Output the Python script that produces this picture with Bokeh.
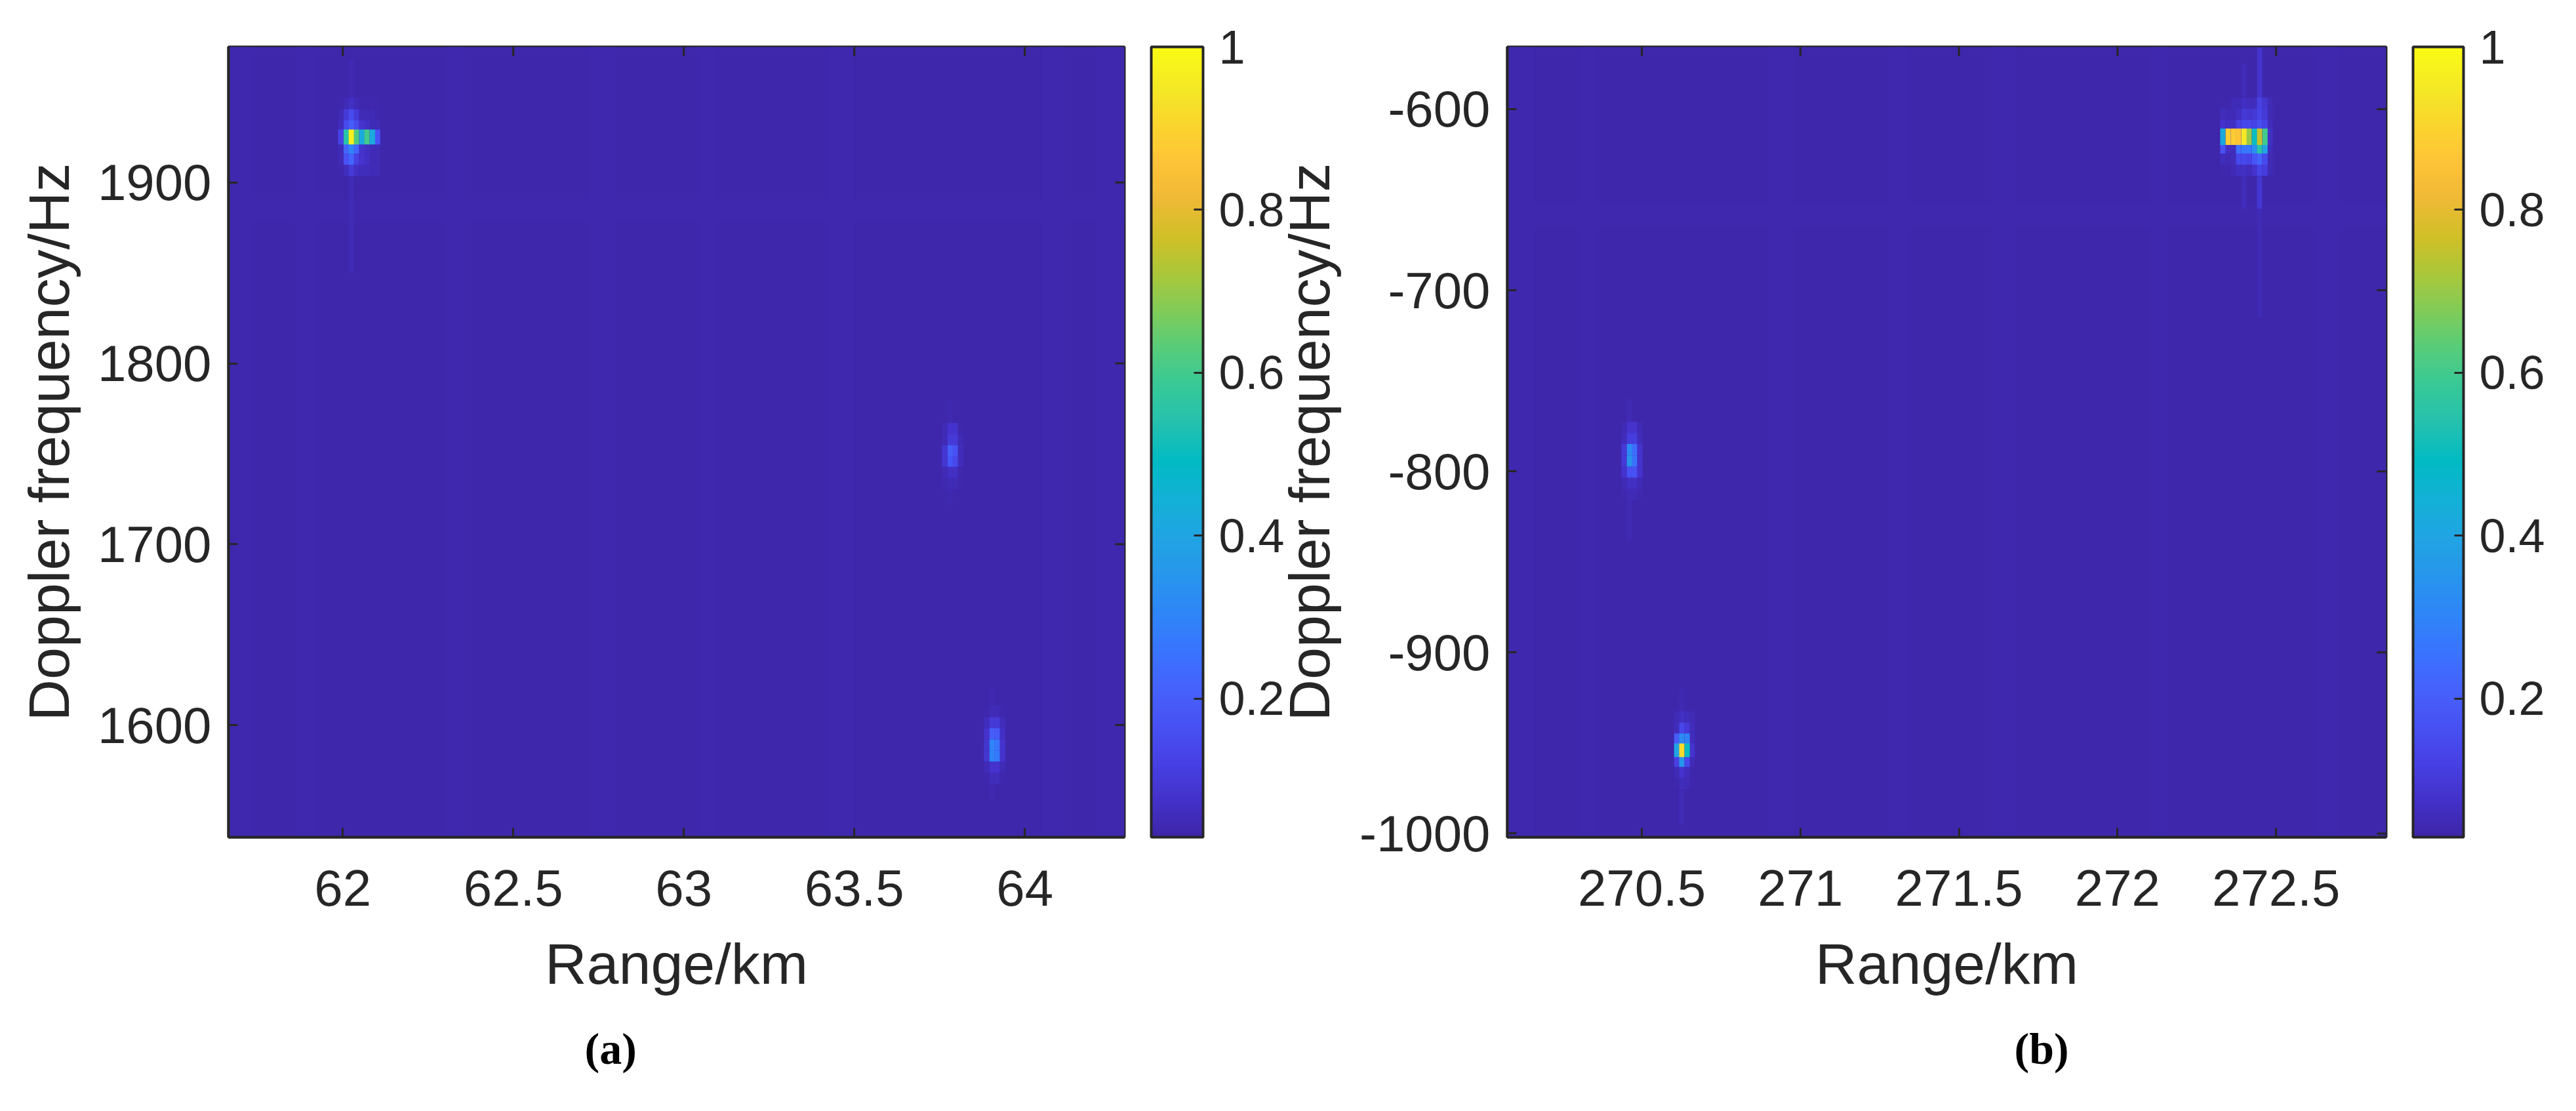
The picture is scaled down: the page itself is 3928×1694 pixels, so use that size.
from bokeh.embed import file_html
from bokeh.layouts import row
from bokeh.models import ColorBar, ColumnDataSource, FixedTicker, LinearColorMapper, Range1d, Title
from bokeh.plotting import figure
from bokeh.resources import INLINE
from bokeh.transform import transform
import numpy as np

# parula, every 3rd entry of the 64 level table
parula_stops = [
    (0.2422, 0.1504, 0.6603), (0.2647, 0.1978, 0.7952), (0.2783, 0.2559, 0.8991), (0.2810, 0.3228, 0.9579),
    (0.2699, 0.3892, 0.9906), (0.2206, 0.4603, 0.9973), (0.1786, 0.5289, 0.9682), (0.1540, 0.5902, 0.9218),
    (0.1248, 0.6459, 0.8883), (0.0689, 0.6948, 0.8394), (0.0067, 0.7312, 0.7660), (0.1408, 0.7584, 0.6842),
    (0.2161, 0.7843, 0.5923), (0.3406, 0.8008, 0.4789), (0.5044, 0.7993, 0.3480), (0.6720, 0.7793, 0.2227),
    (0.8203, 0.7498, 0.1535), (0.9393, 0.7288, 0.2100), (0.9970, 0.7659, 0.2199), (0.9786, 0.8386, 0.1766),
    (0.9597, 0.9135, 0.1423), (0.9769, 0.9839, 0.0805),
]

bar_ticks = [0.2, 0.4, 0.6, 0.8, 1]
bar_labels = ['0.2', '0.4', '0.6', '0.8', '1']
value_low = 0.03
value_high = 1.0

# panel (a)
a_xticks = [62, 62.5, 63, 63.5, 64]
a_xlabels = ['62', '62.5', '63', '63.5', '64']
a_yticks = [1600, 1700, 1800, 1900]
a_ylabels = ['1600', '1700', '1800', '1900']
a_xrange = (61.665, 64.292)
a_yrange = (1538, 1975)
a_dx = 0.0155
a_background = 0.036

# faint vertical and horizontal bands of the background
a_band_x0 = [61.665, 61.86, 62.30, 62.72, 63.04, 63.42, 64.05, 64.21]
a_band_x1 = [61.74, 61.93, 62.36, 62.80, 63.10, 63.50, 64.12, 64.292]
a_band_v = [0.040, 0.038, 0.040, 0.038, 0.039, 0.038, 0.040, 0.041]
a_hband_y0 = [1878]
a_hband_y1 = [1891]
a_hband_v = [0.040]

a1_x = [61.994, 62.010, 62.025, 62.040, 62.056, 62.071, 62.087, 62.102]
a1_y = [1943.7, 1937.5, 1931.4, 1925.2, 1919.1, 1912.9, 1906.7]
a1_h = [6.16, 6.16, 6.16, 8.3, 6.16, 6.16, 6.16]
a1_v = [
    [.040, .050, .070, .050, .040, .040, .040, .040],
    [.050, .100, .150, .100, .050, .050, .050, .040],
    [.060, .150, .200, .150, .080, .070, .050, .050],
    [.130, .550, .970, .620, .420, .600, .420, .170],
    [.050, .220, .300, .220, .080, .070, .050, .050],
    [.050, .170, .220, .120, .080, .070, .050, .050],
    [.040, .060, .100, .070, .060, .060, .050, .050],
]
a2_x = [63.765, 63.781, 63.796, 63.812]
a2_y = [1764.0, 1757.8, 1751.7, 1745.9, 1739.7, 1733.5]
a2_h = [6.16, 6.16, 6.16, 6.16, 6.16, 6.16]
a2_v = [
    [.050, .080, .080, .040],
    [.050, .100, .100, .050],
    [.090, .200, .170, .060],
    [.090, .180, .140, .060],
    [.050, .070, .070, .040],
    [.045, .050, .050, .040],
]
a3_x = [63.888, 63.904, 63.919, 63.935]
a3_y = [1607.5, 1601.3, 1595.2, 1589.0, 1582.9, 1576.7, 1570.5]
a3_h = [6.16, 6.16, 6.16, 6.16, 6.16, 6.16, 6.16]
a3_v = [
    [.040, .050, .050, .040],
    [.060, .100, .100, .060],
    [.080, .200, .190, .070],
    [.090, .300, .260, .080],
    [.090, .300, .270, .080],
    [.050, .080, .080, .050],
    [.040, .060, .060, .040],
]
# thin vertical tails
a_streak_x = [62.025, 62.025, 63.781, 63.904]
a_streak_y0 = [1947, 1850, 1722, 1560]
a_streak_y1 = [1968, 1904, 1780, 1620]
a_streak_v = [0.047, 0.050, 0.042, 0.042]

# panel (b)
b_xticks = [270.5, 271, 271.5, 272, 272.5]
b_xlabels = ['270.5', '271', '271.5', '272', '272.5']
b_yticks = [-1000, -900, -800, -700, -600]
b_ylabels = ['-1000', '-900', '-800', '-700', '-600']
b_xrange = (270.076, 272.847)
b_yrange = (-1002, -565.6)
b_dx = 0.0165
b_background = 0.036

b_band_x0 = [270.076, 270.30, 270.90, 271.28, 271.60, 272.10, 272.62]
b_band_x1 = [270.16, 270.36, 270.98, 271.34, 271.68, 272.16, 272.70]
b_band_v = [0.040, 0.038, 0.040, 0.038, 0.039, 0.040, 0.039]
b_hband_y0 = [-665]
b_hband_y1 = [-652]
b_hband_v = [0.040]

b1_x = [272.332, 272.349, 272.366, 272.382, 272.399, 272.415, 272.432, 272.448, 272.465, 272.481]
b1_y = [-596.7, -602.9, -609.1, -615.2, -621.4, -627.5, -633.7]
b1_h = [6.16, 6.16, 6.16, 9.0, 6.16, 6.16, 6.16]
b1_v = [
    [.040, .040, .050, .050, .070, .060, .060, .120, .090, .050],
    [.060, .050, .050, .070, .100, .090, .100, .130, .100, .050],
    [.080, .070, .070, .120, .140, .140, .130, .160, .130, .060],
    [.420, .880, .880, .860, .950, .700, .500, .750, .600, .070],
    [.170, .070, .060, .250, .270, .270, .330, .550, .400, .060],
    [.060, .050, .060, .140, .140, .130, .180, .220, .150, .050],
    [.040, .040, .050, .070, .070, .060, .080, .130, .110, .050],
]
b2_x = [270.444, 270.461, 270.477, 270.494]
b2_y = [-775.7, -781.9, -788.0, -794.2, -800.4, -806.5, -812.7]
b2_h = [6.16, 6.16, 6.16, 6.16, 6.16, 6.16, 6.16]
b2_v = [
    [.050, .080, .080, .050],
    [.060, .110, .110, .060],
    [.100, .320, .240, .080],
    [.100, .350, .260, .080],
    [.080, .170, .170, .080],
    [.050, .070, .070, .050],
    [.040, .050, .050, .040],
]
b3_x = [270.610, 270.626, 270.643, 270.659]
b3_y = [-935.5, -941.7, -947.8, -954.0, -960.1, -966.3, -972.5]
b3_h = [6.16, 6.16, 6.16, 7.5, 6.16, 6.16, 6.16]
b3_v = [
    [.050, .070, .060, .050],
    [.060, .140, .100, .060],
    [.200, .320, .300, .060],
    [.400, .920, .500, .080],
    [.120, .350, .140, .050],
    [.050, .080, .060, .040],
    [.040, .060, .050, .040],
]
b_streak_x = [272.448, 272.448, 272.448, 272.399, 272.399, 270.461, 270.461, 270.626, 270.626]
b_streak_y0 = [-594, -655, -715, -593, -655, -776, -838, -935, -995]
b_streak_y1 = [-566, -637, -655, -575, -637, -760, -815, -920, -976]
b_streak_v = [0.080, 0.090, 0.050, 0.055, 0.060, 0.046, 0.048, 0.048, 0.050]


def make_palette(stops, n=256):
    stops = np.array(stops)
    pos = np.linspace(0, 1, len(stops))
    t = np.linspace(0, 1, n)
    rgb = np.column_stack([np.interp(t, pos, stops[:, i]) for i in range(3)])
    return ['#%02x%02x%02x' % tuple(int(round(c * 255)) for c in r) for r in rgb]


mapper = LinearColorMapper(palette=make_palette(parula_stops), low=value_low, high=value_high)


def draw_cells(p, left, right, bottom, top, value):
    source = ColumnDataSource(dict(left=left, right=right, bottom=bottom, top=top, value=value))
    p.quad(left='left', right='right', bottom='bottom', top='top', source=source,
           fill_color=transform('value', mapper), line_color=None)


def draw_blob(p, xs, ys, heights, vals, dx):
    cells = []
    for j, y in enumerate(ys):
        for i, x in enumerate(xs):
            cells.append((vals[j][i], x - dx / 2, x + dx / 2, y - heights[j] / 2, y + heights[j] / 2))
    # brightest cells go on top where the taller rows overlap their neighbours
    cells.sort()
    value, left, right, bottom, top = zip(*cells)
    draw_cells(p, list(left), list(right), list(bottom), list(top), list(value))


def draw_side_ticks(p, xticks, yticks, xrange, yrange, frame_w):
    # MATLAB box ticks on the top and right edges, 14px long
    tx = (xrange[1] - xrange[0]) * 14 / frame_w
    ty = (yrange[1] - yrange[0]) * 14 / 1205
    p.segment(x0=xticks, x1=xticks, y0=[yrange[1]] * len(xticks), y1=[yrange[1] - ty] * len(xticks),
              line_color='#262626', line_width=3)
    p.segment(x0=[xrange[1]] * len(yticks), x1=[xrange[1] - tx] * len(yticks), y0=yticks, y1=yticks,
              line_color='#262626', line_width=3)


def panel(xrange, yrange, xticks, xlabels, yticks, ylabels, frame_w, border_l, border_r, bar_gap, bar_w,
          label_standoff, caption, caption_x):
    p = figure(x_range=Range1d(*xrange), y_range=Range1d(*yrange), frame_width=frame_w, frame_height=1205,
               min_border_left=border_l, min_border_right=border_r, min_border_top=71, min_border_bottom=410,
               x_axis_label='Range/km', y_axis_label='Doppler frequency/Hz',
               output_backend='svg', toolbar_location=None, background_fill_color='#3e26a8',
               border_fill_color=None)
    p.grid.visible = False
    p.outline_line_color = '#262626'
    p.outline_line_width = 4
    for ax in p.axis:
        ax.axis_line_color = '#262626'
        ax.axis_line_width = 4
        ax.major_tick_line_color = '#262626'
        ax.major_tick_line_width = 3
        ax.major_tick_in = 14
        ax.major_tick_out = 0
        ax.minor_tick_line_color = None
        ax.major_label_text_font = 'Liberation Sans'
        ax.major_label_text_font_size = '78px'
        ax.major_label_text_color = '#262626'
        ax.axis_label_text_font = 'Liberation Sans'
        ax.axis_label_text_font_size = '88px'
        ax.axis_label_text_font_style = 'normal'
        ax.axis_label_text_color = '#262626'
    p.below[0].ticker = FixedTicker(ticks=xticks)
    p.left[0].ticker = FixedTicker(ticks=yticks)
    p.below[0].major_label_overrides = dict(zip(xticks, xlabels))
    p.left[0].major_label_overrides = dict(zip(yticks, ylabels))
    p.below[0].major_label_standoff = 50
    p.below[0].axis_label_standoff = 36
    p.left[0].major_label_standoff = 26
    p.left[0].axis_label_standoff = label_standoff

    bar = ColorBar(color_mapper=mapper, ticker=FixedTicker(ticks=bar_ticks),
                   major_label_overrides=dict(zip(bar_ticks, bar_labels)),
                   location=(frame_w + bar_gap, 0), width=bar_w, height=1205, padding=0, margin=0,
                   bar_line_color='#262626', bar_line_width=4, border_line_color=None,
                   background_fill_color=None, major_tick_line_color='#262626', major_tick_line_width=3,
                   major_tick_in=14, minor_tick_line_color=None, label_standoff=24,
                   major_label_text_font='Liberation Sans', major_label_text_font_size='72px',
                   major_label_text_color='#262626')
    p.add_layout(bar)
    p.add_layout(Title(text=caption, align='left', offset=caption_x, standoff=74,
                       text_font='Liberation Serif', text_font_style='bold', text_font_size='68px',
                       text_color='#000000'), 'below')
    return p


p_a = panel(a_xrange, a_yrange, a_xticks, a_xlabels, a_yticks, a_ylabels, 1366, 348, 276, 41, 79, 22, '(a)', 543)
draw_cells(p_a, [a_xrange[0]], [a_xrange[1]], [a_yrange[0]], [a_yrange[1]], [a_background])
draw_cells(p_a, a_band_x0, a_band_x1, [a_yrange[0]] * len(a_band_x0), [a_yrange[1]] * len(a_band_x0), a_band_v)
draw_cells(p_a, [a_xrange[0]] * len(a_hband_y0), [a_xrange[1]] * len(a_hband_y0), a_hband_y0, a_hband_y1, a_hband_v)
draw_cells(p_a, [x - a_dx / 2 for x in a_streak_x], [x + a_dx / 2 for x in a_streak_x], a_streak_y0, a_streak_y1, a_streak_v)
draw_blob(p_a, a1_x, a1_y, a1_h, a1_v, a_dx)
draw_blob(p_a, a2_x, a2_y, a2_h, a2_v, a_dx)
draw_blob(p_a, a3_x, a3_y, a3_h, a3_v, a_dx)
draw_side_ticks(p_a, a_xticks, a_yticks, a_xrange, a_yrange, 1366)

p_b = panel(b_xrange, b_yrange, b_xticks, b_xlabels, b_yticks, b_ylabels, 1340, 368, 282, 41, 77, 24, '(b)', 773)
draw_cells(p_b, [b_xrange[0]], [b_xrange[1]], [b_yrange[0]], [b_yrange[1]], [b_background])
draw_cells(p_b, b_band_x0, b_band_x1, [b_yrange[0]] * len(b_band_x0), [b_yrange[1]] * len(b_band_x0), b_band_v)
draw_cells(p_b, [b_xrange[0]] * len(b_hband_y0), [b_xrange[1]] * len(b_hband_y0), b_hband_y0, b_hband_y1, b_hband_v)
draw_cells(p_b, [x - b_dx / 2 for x in b_streak_x], [x + b_dx / 2 for x in b_streak_x], b_streak_y0, b_streak_y1, b_streak_v)
draw_blob(p_b, b1_x, b1_y, b1_h, b1_v, b_dx)
draw_blob(p_b, b2_x, b2_y, b2_h, b2_v, b_dx)
draw_blob(p_b, b3_x, b3_y, b3_h, b3_v, b_dx)
draw_side_ticks(p_b, b_xticks, b_yticks, b_xrange, b_yrange, 1340)

# the right hand y label sits tight against the left colorbar labels, so the two figures overlap a little
p_b.margin = (0, 0, 0, -60)

page = row(p_a, p_b, spacing=0)
open("out.html", "w").write(file_html(page, INLINE))
